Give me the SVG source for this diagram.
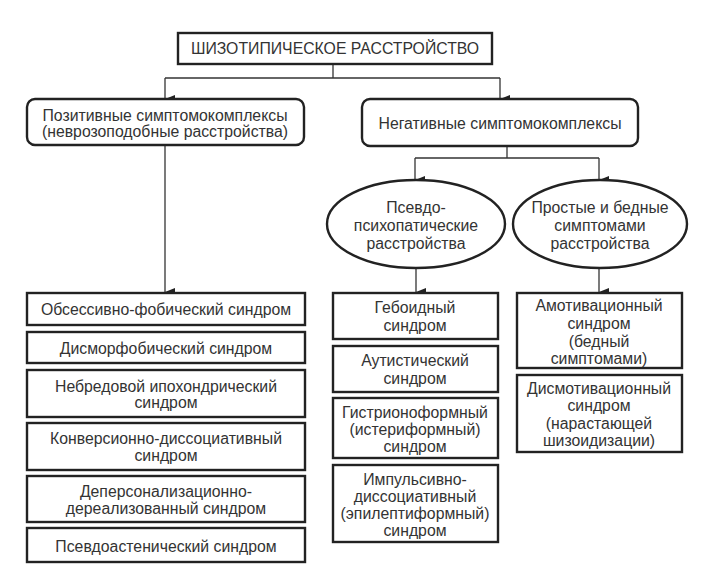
<svg xmlns="http://www.w3.org/2000/svg" width="720" height="584" viewBox="0 0 720 584">
<defs>
<marker id="arr" viewBox="0 0 8 10" refX="4" refY="10" markerWidth="8" markerHeight="10" markerUnits="userSpaceOnUse" orient="auto-start-reverse">
<path d="M0,0 L8,0 L4,10 Z" fill="#222"/>
</marker>
</defs>
<style>
text{font-family:"Liberation Sans",Arial,sans-serif;font-size:15.8px;fill:#333;text-anchor:middle;dominant-baseline:central}
.box{fill:#fff;stroke:#222;stroke-width:2.4}
.con{fill:none;stroke:#333;stroke-width:1.3}
.arr{marker-end:url(#arr)}
</style>
<rect width="720" height="584" fill="#fff"/>
<g id="connectors">
<path class="con" d="M333,64 V78"/>
<path class="con" d="M165,78 H500"/>
<path class="con arr" d="M165,78 V99"/>
<path class="con arr" d="M500,78 V99"/>
<path class="con arr" d="M165,145 V292"/>
<path class="con" d="M507,146 V158"/>
<path class="con" d="M415,158 H599"/>
<path class="con arr" d="M415,158 V180"/>
<path class="con arr" d="M599,158 V180"/>
<path class="con arr" d="M416,268 V292"/>
<path class="con arr" d="M599,268 V292"/>
</g>
<g id="title">
<rect class="box" x="178" y="33" width="314" height="31"/>
<text x="335" y="48.5">ШИЗОТИПИЧЕСКОЕ РАССТРОЙСТВО</text>
</g>
<g id="positive">
<rect class="box" x="27" y="99" width="277" height="46" rx="8"/>
<text x="165" y="115">Позитивные симптомокомплексы</text>
<text x="165" y="131">(неврозоподобные расстройства)</text>
</g>
<g id="negative">
<rect class="box" x="362" y="99" width="276" height="47" rx="8"/>
<text x="500" y="123">Негативные симптомокомплексы</text>
</g>
<g id="pseudo">
<ellipse class="box" cx="416" cy="224" rx="89" ry="44"/>
<text x="416" y="207">Псевдо-</text>
<text x="416" y="225">психопатические</text>
<text x="416" y="243">расстройства</text>
</g>
<g id="simple">
<ellipse class="box" cx="600" cy="224" rx="87" ry="44"/>
<text x="600" y="207">Простые и бедные</text>
<text x="600" y="225">симптомами</text>
<text x="600" y="243">расстройства</text>
</g>
<g id="obsessive">
<rect class="box" x="27" y="293" width="278" height="32"/>
<text x="166" y="309">Обсессивно-фобический синдром</text>
</g>
<g id="dysmorpho">
<rect class="box" x="27" y="332" width="278" height="31"/>
<text x="166" y="348">Дисморфобический синдром</text>
</g>
<g id="hypochondria">
<rect class="box" x="27" y="370" width="278" height="47"/>
<text x="166" y="386">Небредовой ипохондрический</text>
<text x="166" y="402">синдром</text>
</g>
<g id="conversion">
<rect class="box" x="27" y="423" width="278" height="47"/>
<text x="166" y="438">Конверсионно-диссоциативный</text>
<text x="166" y="455">синдром</text>
</g>
<g id="depersonal">
<rect class="box" x="27" y="476" width="278" height="46"/>
<text x="166" y="491">Деперсонализационно-</text>
<text x="166" y="508">дереализованный синдром</text>
</g>
<g id="pseudoasthenic">
<rect class="box" x="27" y="528" width="278" height="34"/>
<text x="166" y="546">Псевдоастенический синдром</text>
</g>
<g id="heboid">
<rect class="box" x="333" y="293" width="165" height="46"/>
<text x="415" y="307">Гебоидный</text>
<text x="415" y="325">синдром</text>
</g>
<g id="autistic">
<rect class="box" x="333" y="346" width="165" height="46"/>
<text x="415" y="360">Аутистический</text>
<text x="415" y="378">синдром</text>
</g>
<g id="histrionic">
<rect class="box" x="333" y="398" width="165" height="60"/>
<text x="415" y="412">Гистрионоформный</text>
<text x="415" y="429">(истериформный)</text>
<text x="415" y="446">синдром</text>
</g>
<g id="impulsive">
<rect class="box" x="333" y="465" width="165" height="77"/>
<text x="415" y="479">Импульсивно-</text>
<text x="415" y="496">диссоциативный</text>
<text x="415" y="513">(эпилептиформный)</text>
<text x="415" y="530">синдром</text>
</g>
<g id="amotivation">
<rect class="box" x="517" y="293" width="165" height="75"/>
<text x="599" y="305">Амотивационный</text>
<text x="599" y="323">синдром</text>
<text x="599" y="341">(бедный</text>
<text x="599" y="358">симптомами)</text>
</g>
<g id="dysmotivation">
<rect class="box" x="517" y="375" width="165" height="77"/>
<text x="599" y="388">Дисмотивационный</text>
<text x="599" y="405">синдром</text>
<text x="599" y="423">(нарастающей</text>
<text x="599" y="440">шизоидизации)</text>
</g>
</svg>
